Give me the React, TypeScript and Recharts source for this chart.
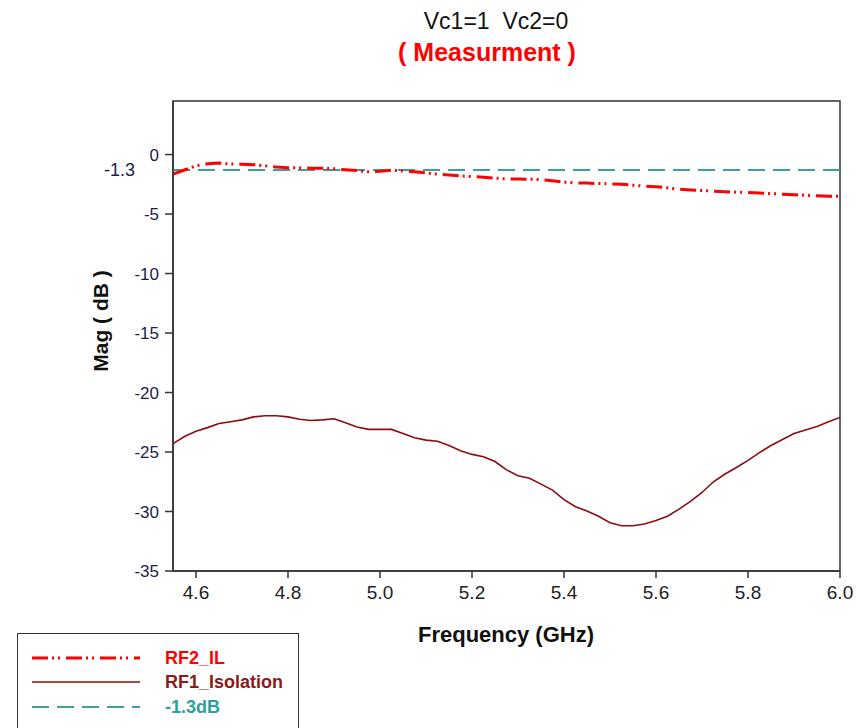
import React from 'react';
import { LineChart, Line, XAxis, YAxis, ReferenceLine, ReferenceArea } from 'recharts';

// frequency grid (GHz)
const freq = [
  4.55, 4.575, 4.6, 4.625, 4.65, 4.675, 4.7, 4.725, 4.75, 4.775,
  4.8, 4.825, 4.85, 4.875, 4.9, 4.925, 4.95, 4.975, 5.0, 5.025,
  5.05, 5.075, 5.1, 5.125, 5.15, 5.175, 5.2, 5.225, 5.25, 5.275,
  5.3, 5.325, 5.35, 5.375, 5.4, 5.425, 5.45, 5.475, 5.5, 5.525,
  5.55, 5.575, 5.6, 5.625, 5.65, 5.675, 5.7, 5.725, 5.75, 5.775,
  5.8, 5.825, 5.85, 5.875, 5.9, 5.925, 5.95, 5.975, 6.0
];

const rf2IL = [
  -1.65, -1.3, -0.95, -0.78, -0.72, -0.8, -0.82, -0.85, -0.95, -1.05,
  -1.1, -1.12, -1.15, -1.15, -1.2, -1.28, -1.34, -1.45, -1.4, -1.32,
  -1.38, -1.45, -1.55, -1.65, -1.72, -1.8, -1.85, -1.9, -1.98, -2.05,
  -2.05, -2.08, -2.1, -2.2, -2.32, -2.38, -2.4, -2.44, -2.46, -2.5,
  -2.58, -2.65, -2.7, -2.8, -2.92, -2.98, -3.02, -3.08, -3.12, -3.16,
  -3.2, -3.24, -3.28, -3.33, -3.38, -3.42, -3.47, -3.5, -3.5
];

const rf1Isolation = [
  -24.3, -23.7, -23.25, -22.95, -22.6, -22.45, -22.3, -22.05, -21.95, -21.95,
  -22.05, -22.25, -22.35, -22.3, -22.2, -22.55, -22.9, -23.1, -23.1, -23.1,
  -23.45, -23.8, -24.0, -24.1, -24.45, -24.9, -25.2, -25.4, -25.8, -26.5,
  -27.0, -27.2, -27.7, -28.2, -29.0, -29.6, -29.95, -30.4, -30.95, -31.2,
  -31.2, -31.05, -30.75, -30.4, -29.8, -29.15, -28.4, -27.5, -26.85, -26.3,
  -25.7, -25.05, -24.45, -23.95, -23.45, -23.15, -22.85, -22.45, -22.1
];

const xTicks = [4.6, 4.8, 5.0, 5.2, 5.4, 5.6, 5.8, 6.0];
const yTicks = [0, -5, -10, -15, -20, -25, -30, -35];
const refLevel = -1.3;

const data = freq.map((f, i) => ({ f, il: rf2IL[i], iso: rf1Isolation[i] }));

const FONT = "'Liberation Sans', Arial, sans-serif";

const XTick = (props: any) => (
  <text x={props.x} y={props.y + 17} textAnchor="middle" fontSize={19} fontFamily={FONT} fill="#222">
    {Number(props.payload.value).toFixed(1)}
  </text>
);

const YTick = (props: any) => (
  <text x={props.x} y={props.y + 6} textAnchor="end" fontSize={17} fontFamily={FONT} fill="#1c1c4c">
    {props.payload.value}
  </text>
);

export default function App() {
  return (
    <div style={{ position: 'absolute', left: 0, top: 0, width: 857, height: 728, background: '#fff', fontFamily: FONT, overflow: 'hidden' }}>
      {/* title */}
      <div style={{ position: 'absolute', left: 0, width: 992, top: 8, textAlign: 'center', fontSize: 23, color: '#111' }}>
        Vc1=1&nbsp;&nbsp;Vc2=0
      </div>
      <div style={{ position: 'absolute', left: 0, width: 974, top: 38, textAlign: 'center', fontSize: 25, fontWeight: 'bold', color: '#ff0000' }}>
        ( Measurment )
      </div>

      <LineChart width={857} height={728} data={data} margin={{ top: 101, right: 17, bottom: 127, left: 0 }}>
        <XAxis
          dataKey="f"
          type="number"
          domain={[4.55, 6.0]}
          ticks={xTicks}
          allowDataOverflow
          height={30}
          tickSize={7}
          tickMargin={4}
          stroke="#333"
          strokeWidth={1.5}
          tick={<XTick />}
        />
        <YAxis
          type="number"
          domain={[-35, 4.5]}
          ticks={yTicks}
          allowDataOverflow
          width={173}
          tickSize={8}
          tickMargin={6}
          stroke="#333"
          strokeWidth={1.5}
          tick={<YTick />}
        />
        <ReferenceArea x1={4.55} x2={6.0} y1={-35} y2={4.5} fill="none" stroke="#333" strokeWidth={1.5} />
        <ReferenceLine
          y={refLevel}
          stroke="#3e9e9a"
          strokeWidth={2}
          strokeDasharray="17 8"
          label={{ value: '-1.3', position: 'left', offset: 38, fill: '#1c1c4c', fontSize: 18, fontFamily: FONT }}
        />
        <Line type="linear" dataKey="iso" stroke="#8b0d0d" strokeWidth={1.6} dot={false} isAnimationActive={false} />
        <Line type="linear" dataKey="il" stroke="#ff0000" strokeWidth={3} strokeDasharray="16 4 2 4 2 6" dot={false} isAnimationActive={false} />
      </LineChart>

      {/* axis titles */}
      <div style={{ position: 'absolute', left: 0, width: 1012, top: 622, textAlign: 'center', fontSize: 22, fontWeight: 'bold', color: '#111' }}>
        Frequency (GHz)
      </div>
      <div style={{ position: 'absolute', left: 101, top: 322, width: 0, height: 0 }}>
        <div style={{ position: 'absolute', left: -100, top: -13, width: 200, textAlign: 'center', fontSize: 21, fontWeight: 'bold', color: '#111', transform: 'rotate(-90deg)' }}>
          Mag ( dB )
        </div>
      </div>

      {/* legend */}
      <div style={{ position: 'absolute', left: 17, top: 633, width: 282, height: 110, border: '1.5px solid #333', boxSizing: 'border-box' }}>
        <svg width={130} height={90} style={{ position: 'absolute', left: 12, top: 0 }}>
          <line x1={2} x2={110} y1={24} y2={24} stroke="#ff0000" strokeWidth={3} strokeDasharray="16 4 2 4 2 6" />
          <line x1={2} x2={110} y1={48} y2={48} stroke="#8b0d0d" strokeWidth={1.6} />
          <line x1={2} x2={110} y1={73} y2={73} stroke="#3e9e9a" strokeWidth={2} strokeDasharray="17 8" />
        </svg>
        <div style={{ position: 'absolute', left: 147, top: 13, fontSize: 18, fontWeight: 'bold', color: '#ff0000', lineHeight: '22px' }}>RF2_IL</div>
        <div style={{ position: 'absolute', left: 147, top: 37, fontSize: 18, fontWeight: 'bold', color: '#8b1a1a', lineHeight: '22px' }}>RF1_Isolation</div>
        <div style={{ position: 'absolute', left: 147, top: 62, fontSize: 18, fontWeight: 'bold', color: '#2e9e9e', lineHeight: '22px' }}>-1.3dB</div>
      </div>
    </div>
  );
}
